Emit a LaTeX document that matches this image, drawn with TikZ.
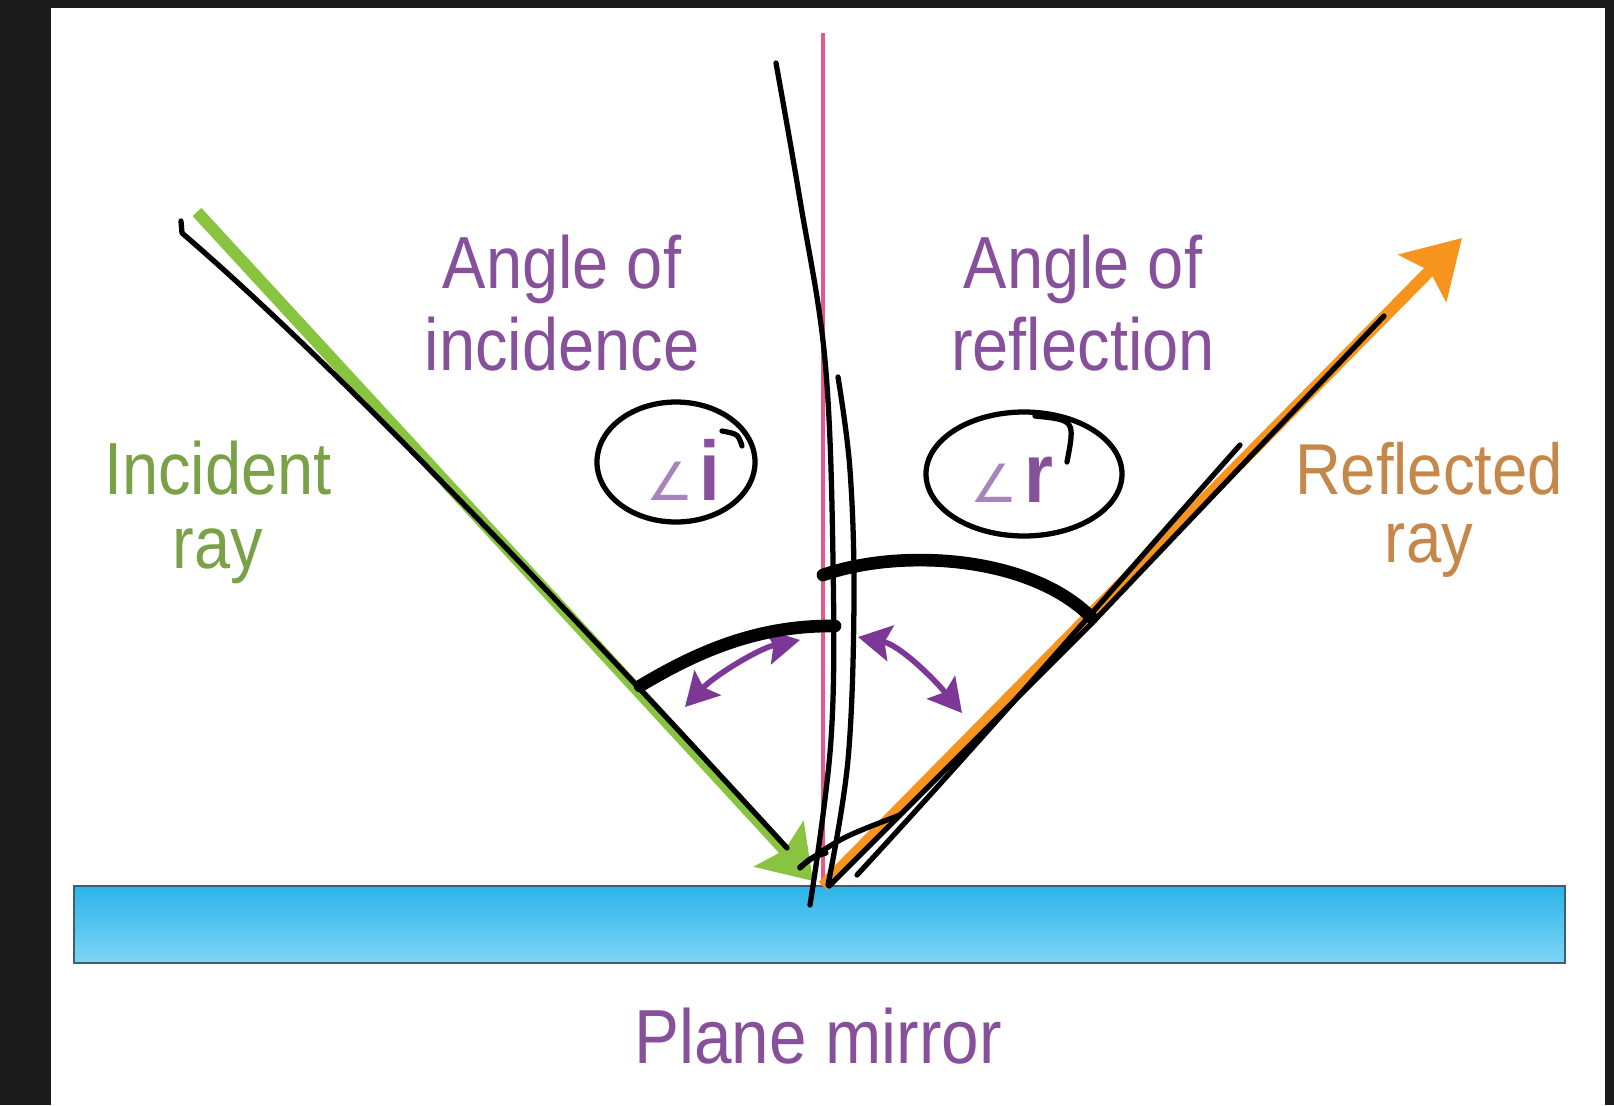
\documentclass[tikz,border=0pt]{standalone}
\usepackage{fontspec}
\setmainfont{Liberation Sans}[FakeStretch=0.88]
\newfontfamily\anglefont{DejaVu Sans}
\usepackage{xcolor}
\usepackage{tikz}
\usetikzlibrary{arrows.meta}

\definecolor{framedark}{RGB}{27,27,27}
\definecolor{raygreen}{RGB}{136,196,64}
\definecolor{rayorange}{RGB}{247,148,30}
\definecolor{textgreen}{RGB}{122,160,72}
\definecolor{textorange}{RGB}{198,136,74}
\definecolor{textpurple}{RGB}{135,80,155}
\definecolor{swingpurple}{RGB}{125,55,150}
\definecolor{anglelight}{RGB}{168,132,188}
\definecolor{normalpink}{RGB}{228,88,140}
\definecolor{mirrortop}{RGB}{44,180,232}
\definecolor{mirrorbot}{RGB}{125,214,245}
\definecolor{mirroredge}{RGB}{60,95,115}

\begin{document}
\begin{tikzpicture}[x=0.01cm, y=-0.01cm,
  lbl/.style={align=center, inner sep=0pt, font=\fontsize{21}{23.3}\selectfont},
  ray/.style={line width=3.4pt},
  pen/.style={line width=1.5pt, line cap=round, line join=round},
  heavypen/.style={line width=3.6pt, line cap=round},
  swing/.style={swingpurple, line width=1.6pt,
    {Stealth[length=0.33cm, width=0.36cm, inset=0.06cm]}-{Stealth[length=0.33cm, width=0.36cm, inset=0.06cm]}}]

% Frame
\fill[framedark] (0,0) rectangle (1614,1105);
\fill[white] (51,8) rectangle (1605,1105);
\useasboundingbox (0,0) rectangle (1614,1105);

% Mirror
\shade[top color=mirrortop, bottom color=mirrorbot] (74,886) rectangle (1565,963);
\draw[mirroredge, line width=0.8pt] (74,886) rectangle (1565,963);

% Normal
\coordinate (ntop) at (823,33);
\coordinate (hit) at (823,886);
\draw[normalpink, line width=1.2pt] (ntop) -- (hit);

% Incident and reflected rays
\coordinate (isrc) at (197,212);
\coordinate (itip) at (813,881);
\coordinate (rtip) at (1462,238);
\draw[ray, raygreen, -{Stealth[length=0.5cm, width=0.66cm, inset=0.08cm]}] (isrc) -- (itip);
\draw[ray, rayorange, -{Stealth[length=0.56cm, width=0.66cm, inset=0.1cm]}] (hit) -- (rtip);

% Labels
\node[lbl, textpurple] (aoi) at (562,303) {Angle of\\incidence};
\node[lbl, textpurple] (aor) at (1083,303) {Angle of\\reflection};
\node[lbl, textgreen, font=\fontsize{21}{21}\selectfont] (incl) at (218,512) {Incident\\ray};
\node[lbl, textorange, font=\fontsize{20.5}{19.5}\selectfont] (refl) at (1429,510) {Reflected\\ray};
\node[lbl, textpurple, font=\fontsize{21.8}{24}\selectfont] (pm) at (818,1036) {Plane mirror};
\node[anchor=base, inner sep=0pt, textpurple] (angi) at (683,500)
  {{\anglefont\fontsize{15}{15}\selectfont\color{anglelight}∠}\,{\bfseries\fontsize{24}{24}\selectfont i}};
\node[anchor=base, inner sep=0pt, textpurple] (angr) at (1012,502)
  {{\anglefont\fontsize{15}{15}\selectfont\color{anglelight}∠}\,{\bfseries\fontsize{24}{24}\selectfont r}};

% Angle arrows
\coordinate (ia) at (685,707);
\coordinate (ib) at (800,640);
\coordinate (ra) at (858,637);
\coordinate (rb) at (962,713);
\draw[swing] (ia) .. controls (715,675) and (760,648) .. (ib);
\draw[swing] (ra) .. controls (900,645) and (935,680) .. (rb);

% Hand-drawn marks
\draw[pen] (181,221) -- (182,233) .. controls (330,360) and (560,600) .. (787,848);
\draw[pen] plot[smooth, tension=0.6] coordinates {(776,63) (800,200) (825,360) (833,560) (831,740) (810,905)};
\draw[pen] plot[smooth, tension=0.6] coordinates {(838,377) (850,470) (854,600) (848,760) (828,885)};
\draw[heavypen] (640,686) .. controls (700,650) and (760,625) .. (835,626);
\draw[heavypen] (823,575) .. controls (900,548) and (1030,555) .. (1092,618);
\draw[pen] (676,462) ellipse [x radius=79, y radius=60];
\draw[pen] (722,431) .. controls (738,434) .. (742,446);
\draw[pen] (1024,474) ellipse [x radius=98, y radius=62];
\draw[pen] (1035,416) .. controls (1075,420) .. (1067,462);
\draw[pen] (857,875) .. controls (1000,720) and (1120,580) .. (1240,445);
\draw[pen] (829,886) -- (1093,622);
\draw[pen] (1093,622) -- (1384,316);
\draw[pen] (800,867) .. controls (840,838) .. (900,815);
\draw[pen] (800,868) .. controls (810,858) .. (826,853);
\end{tikzpicture}
\end{document}
